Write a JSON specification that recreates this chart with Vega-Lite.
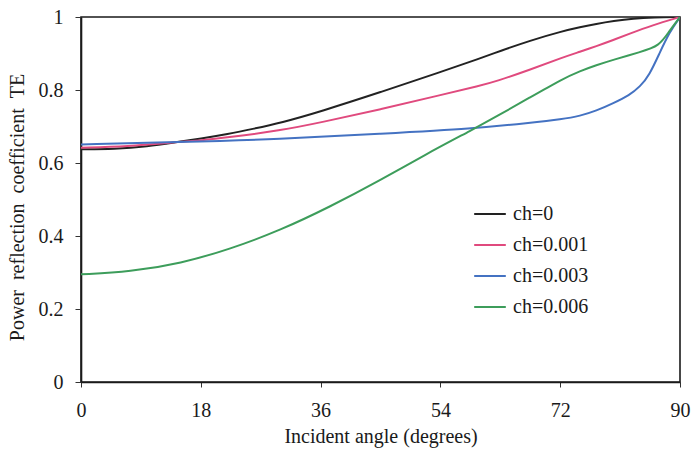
{
  "$schema": "https://vega.github.io/schema/vega-lite/v6.json",
  "width": 599,
  "height": 365,
  "autosize": {"type": "none"},
  "padding": {"left": 81, "top": 17, "right": 12, "bottom": 71},
  "background": "white",
  "config": {
    "font": "Liberation Serif, serif",
    "view": {"stroke": "#1a1a1a", "strokeWidth": 1.6},
    "axis": {
      "grid": false,
      "domainColor": "#1a1a1a",
      "domainWidth": 1.6,
      "tickColor": "#333",
      "labelFont": "Liberation Serif, serif",
      "titleFont": "Liberation Serif, serif",
      "labelColor": "#1a1a1a",
      "titleColor": "#1a1a1a",
      "labelFontSize": 20,
      "titleFontSize": 20,
      "titleFontWeight": "normal"
    },
    "legend": {
      "labelFont": "Liberation Serif, serif"
    }
  },
  "data": {
    "values": [
      {"angle": 0, "R": 0.638, "ch": "ch=0"},
      {"angle": 5, "R": 0.638, "ch": "ch=0"},
      {"angle": 10, "R": 0.645, "ch": "ch=0"},
      {"angle": 14.3, "R": 0.657, "ch": "ch=0"},
      {"angle": 18, "R": 0.667, "ch": "ch=0"},
      {"angle": 22, "R": 0.679, "ch": "ch=0"},
      {"angle": 26, "R": 0.694, "ch": "ch=0"},
      {"angle": 30, "R": 0.710, "ch": "ch=0"},
      {"angle": 36, "R": 0.741, "ch": "ch=0"},
      {"angle": 45, "R": 0.794, "ch": "ch=0"},
      {"angle": 54, "R": 0.849, "ch": "ch=0"},
      {"angle": 60, "R": 0.887, "ch": "ch=0"},
      {"angle": 63, "R": 0.907, "ch": "ch=0"},
      {"angle": 67.4, "R": 0.935, "ch": "ch=0"},
      {"angle": 72.3, "R": 0.961, "ch": "ch=0"},
      {"angle": 75, "R": 0.972, "ch": "ch=0"},
      {"angle": 77.4, "R": 0.981, "ch": "ch=0"},
      {"angle": 80, "R": 0.989, "ch": "ch=0"},
      {"angle": 83, "R": 0.996, "ch": "ch=0"},
      {"angle": 86, "R": 0.999, "ch": "ch=0"},
      {"angle": 90, "R": 1.0, "ch": "ch=0"},

      {"angle": 0, "R": 0.642, "ch": "ch=0.001"},
      {"angle": 7, "R": 0.645, "ch": "ch=0.001"},
      {"angle": 14.3, "R": 0.657, "ch": "ch=0.001"},
      {"angle": 18, "R": 0.662, "ch": "ch=0.001"},
      {"angle": 22, "R": 0.670, "ch": "ch=0.001"},
      {"angle": 30, "R": 0.689, "ch": "ch=0.001"},
      {"angle": 36, "R": 0.711, "ch": "ch=0.001"},
      {"angle": 45, "R": 0.747, "ch": "ch=0.001"},
      {"angle": 54, "R": 0.786, "ch": "ch=0.001"},
      {"angle": 60, "R": 0.812, "ch": "ch=0.001"},
      {"angle": 62.4, "R": 0.824, "ch": "ch=0.001"},
      {"angle": 67.4, "R": 0.855, "ch": "ch=0.001"},
      {"angle": 72.3, "R": 0.889, "ch": "ch=0.001"},
      {"angle": 75, "R": 0.905, "ch": "ch=0.001"},
      {"angle": 77.4, "R": 0.920, "ch": "ch=0.001"},
      {"angle": 80, "R": 0.937, "ch": "ch=0.001"},
      {"angle": 82.4, "R": 0.954, "ch": "ch=0.001"},
      {"angle": 85.8, "R": 0.977, "ch": "ch=0.001"},
      {"angle": 90, "R": 1.0, "ch": "ch=0.001"},

      {"angle": 0, "R": 0.651, "ch": "ch=0.003"},
      {"angle": 14.3, "R": 0.657, "ch": "ch=0.003"},
      {"angle": 30, "R": 0.665, "ch": "ch=0.003"},
      {"angle": 45, "R": 0.680, "ch": "ch=0.003"},
      {"angle": 59.1, "R": 0.694, "ch": "ch=0.003"},
      {"angle": 67.4, "R": 0.710, "ch": "ch=0.003"},
      {"angle": 72.3, "R": 0.720, "ch": "ch=0.003"},
      {"angle": 75, "R": 0.729, "ch": "ch=0.003"},
      {"angle": 77.4, "R": 0.743, "ch": "ch=0.003"},
      {"angle": 80, "R": 0.764, "ch": "ch=0.003"},
      {"angle": 82.4, "R": 0.786, "ch": "ch=0.003"},
      {"angle": 84, "R": 0.809, "ch": "ch=0.003"},
      {"angle": 85.4, "R": 0.841, "ch": "ch=0.003"},
      {"angle": 86.9, "R": 0.900, "ch": "ch=0.003"},
      {"angle": 88.4, "R": 0.958, "ch": "ch=0.003"},
      {"angle": 90, "R": 1.0, "ch": "ch=0.003"},

      {"angle": 0, "R": 0.295, "ch": "ch=0.006"},
      {"angle": 7.4, "R": 0.302, "ch": "ch=0.006"},
      {"angle": 15, "R": 0.325, "ch": "ch=0.006"},
      {"angle": 22.4, "R": 0.364, "ch": "ch=0.006"},
      {"angle": 30, "R": 0.416, "ch": "ch=0.006"},
      {"angle": 37.4, "R": 0.480, "ch": "ch=0.006"},
      {"angle": 45, "R": 0.553, "ch": "ch=0.006"},
      {"angle": 51.6, "R": 0.622, "ch": "ch=0.006"},
      {"angle": 59.1, "R": 0.694, "ch": "ch=0.006"},
      {"angle": 62.4, "R": 0.727, "ch": "ch=0.006"},
      {"angle": 67.4, "R": 0.779, "ch": "ch=0.006"},
      {"angle": 72.3, "R": 0.830, "ch": "ch=0.006"},
      {"angle": 75, "R": 0.852, "ch": "ch=0.006"},
      {"angle": 77.4, "R": 0.868, "ch": "ch=0.006"},
      {"angle": 80, "R": 0.883, "ch": "ch=0.006"},
      {"angle": 84, "R": 0.904, "ch": "ch=0.006"},
      {"angle": 86.9, "R": 0.920, "ch": "ch=0.006"},
      {"angle": 88.4, "R": 0.962, "ch": "ch=0.006"},
      {"angle": 90, "R": 1.0, "ch": "ch=0.006"}
    ]
  },
  "mark": {"type": "line", "interpolate": "basis", "strokeWidth": 2, "clip": true},
  "encoding": {
    "x": {
      "field": "angle",
      "type": "quantitative",
      "scale": {"domain": [0, 90], "nice": false},
      "axis": {
        "title": "Incident  angle (degrees)",
        "values": [0, 18, 36, 54, 72, 90],
        "tickSize": 5,
        "labelPadding": 13,
        "titlePadding": 6,
        "labelFlush": false
      }
    },
    "y": {
      "field": "R",
      "type": "quantitative",
      "scale": {"domain": [0, 1], "nice": false},
      "axis": {
        "title": "Power\u00a0\u00a0reflection\u00a0\u00a0coefficient\u00a0\u00a0TE",
        "values": [0, 0.2, 0.4, 0.6, 0.8, 1],
        "format": ".1~f",
        "tickSize": 6,
        "labelPadding": 12,
        "titlePadding": 11,
        "titleY": 190,
        "labelFlush": false
      }
    },
    "color": {
      "field": "ch",
      "type": "nominal",
      "scale": {
        "domain": ["ch=0", "ch=0.001", "ch=0.003", "ch=0.006"],
        "range": ["#222222", "#e04a7e", "#4472c2", "#3d9d5b"]
      },
      "legend": {
        "title": null,
        "orient": "none",
        "legendX": 392,
        "legendY": 180,
        "symbolType": "stroke",
        "symbolSize": 1000,
        "symbolStrokeWidth": 2,
        "labelFontSize": 20,
        "labelColor": "#1a1a1a",
        "labelOffset": 6,
        "rowPadding": 4,
        "padding": 0
      }
    }
  }
}
